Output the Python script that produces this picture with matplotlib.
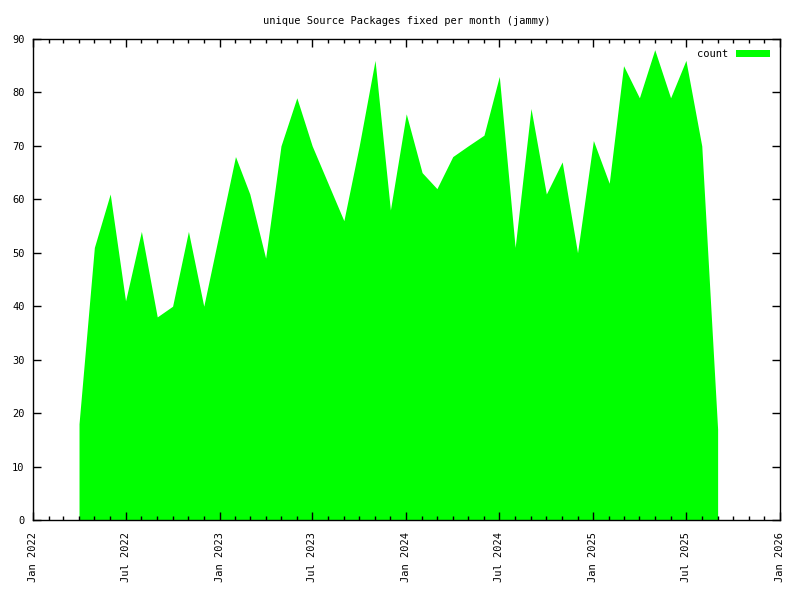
import datetime as dt
import matplotlib
matplotlib.use("Agg")
import matplotlib.pyplot as plt
import matplotlib.dates as mdates

# monthly counts, Apr 2022 .. Sep 2025
start_year, start_month = 2022, 4
counts = [18, 51, 61, 41, 54, 38, 40, 54, 40,
          54, 68, 61, 49, 70, 79, 70, 63, 56, 70, 86, 58,
          76, 65, 62, 68, 70, 72, 83, 51, 77, 61, 67, 50,
          71, 63, 85, 79, 88, 79, 86, 70, 17]

months = []
y, m = start_year, start_month
for _ in counts:
    months.append(dt.date(y, m, 1))
    m += 1
    if m > 12:
        m = 1
        y += 1

plt.rcParams['font.family'] = ['DejaVu Sans Mono']
plt.rcParams['font.size'] = 7.5

fig = plt.figure(figsize=(8, 6), dpi=100)
ax = fig.add_axes([33 / 800, 80 / 600, 747 / 800, 481 / 600])

ax.fill_between(months, counts, 0, color='#00ff00', linewidth=0, label='count')

ax.set_xlim(dt.date(2022, 1, 1), dt.date(2026, 1, 1))
ax.set_ylim(0, 90)
ax.set_yticks(range(0, 91, 10))

ax.xaxis.set_major_locator(mdates.MonthLocator(bymonth=[1, 7]))
ax.xaxis.set_minor_locator(mdates.MonthLocator())
ax.xaxis.set_major_formatter(mdates.DateFormatter('%b %Y'))
plt.setp(ax.get_xticklabels(), rotation=90, ha='center')

ax.tick_params(which='both', direction='in', top=True, right=True, width=1)
ax.tick_params(which='major', length=6)
ax.tick_params(which='minor', length=3)
ax.tick_params(axis='x', which='major', pad=9)
ax.tick_params(axis='y', which='major', pad=6)
for s in ax.spines.values():
    s.set_linewidth(1)

ax.set_title('unique Source Packages fixed per month (jammy)', fontsize=7.5, pad=11)
ax.legend(loc='upper right', frameon=False, markerfirst=False,
          handlelength=3.2, handleheight=0.7, borderaxespad=0.6)

fig.savefig('out.png', dpi=100)
